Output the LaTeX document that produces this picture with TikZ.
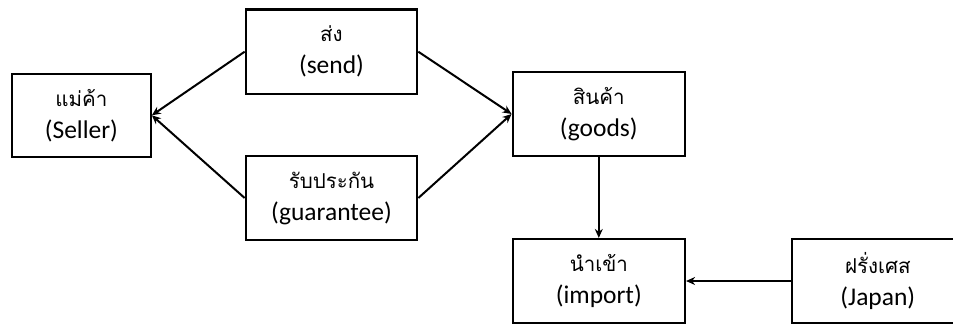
\documentclass[tikz,border=0pt]{standalone}
\usepackage{fontspec}
\setmainfont{Carlito}
\newfontfamily\thaifont[Script=Thai]{Loma}
\usetikzlibrary{arrows.meta}
\newcommand{\thl}[1]{{\thaifont\fontsize{20.5}{32}\selectfont #1}}
\begin{document}
\begin{tikzpicture}[x=1pt,y=-1pt,
  box/.style={draw, line width=2.2pt, minimum width=171.5pt, minimum height=84.5pt, inner sep=0pt, align=center, font=\fontsize{25.5}{32}\selectfont},
  conn/.style={line width=2pt, -{Stealth[length=9pt,width=8pt]}}]
\useasboundingbox (0,0) rectangle (953,324);
\node[box, minimum width=138.7pt, minimum height=83.3pt] (seller) at (81.4,115.3) {\thl{แม่ค้า}\\(Seller)};
\node[box] (send) at (331.5,51.7) {\thl{ส่ง}\\(send)};
\node[box] (guar) at (331.5,198) {\thl{รับประกัน}\\(guarantee)};
\node[box, minimum width=172.3pt, minimum height=83.4pt] (goods) at (598.8,114) {\thl{สินค้า}\\(goods)};
\node[box, minimum width=172.3pt, minimum height=84pt] (import) at (598.8,281) {\thl{นำเข้า}\\(import)};
\node[box] (japan) at (877.8,281) {\thl{ฝรั่งเศส}\\(Japan)};
\draw[conn] (send.west) -- (seller.east);
\draw[conn] (guar.west) -- (seller.east);
\draw[conn] (send.east) -- (goods.west);
\draw[conn] (guar.east) -- (goods.west);
\draw[conn] (goods.south) -- (import.north);
\draw[conn] (japan.west) -- (import.east);
\end{tikzpicture}
\end{document}
